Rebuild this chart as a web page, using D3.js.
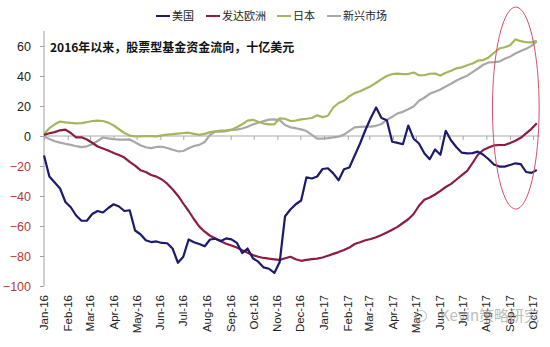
<!DOCTYPE html>
<html><head><meta charset="utf-8">
<script src="https://cdn.jsdelivr.net/npm/d3@7"></script>
<style>
html,body{margin:0;padding:0;background:#fff;}
svg{display:block;}
</style></head>
<body><div id="chart"></div>
<script>
// ---- Data (weekly, starting 2016-01-01), US$ bn cumulative flows ----
const seriesNames = ["美国", "发达欧洲", "日本", "新兴市场"];
const startDate = "2016-01-01";
const usValues = [-13,-27,-31,-35,-44,-47.5,-53,-56.5,-56.5,-52,-50,-51,-48,-45.5,-47,-50,-49.5,-63,-65.5,-69.5,
 -70.7,-70.3,-71.3,-71.5,-75,-84.5,-80.5,-69,-70.8,-72,-73.5,-69,-68.5,-70,-68.3,-68.9,-71.2,-78,-75,-81.5,
 -83.8,-87.6,-88.5,-91.3,-84,-53.5,-49,-45.5,-43,-27.5,-28.3,-27,-22,-21.5,-24.9,-29.5,-22.2,-21,-13,-5,
 4,12,19,12,10.5,-3.8,-4.6,-5.5,7,-1.8,-5,-11.5,-15.5,-9,-12.5,3.5,-3,-7.5,-11.1,-11.6,
 -11.4,-10.4,-12.5,-15.5,-19,-20.4,-20.4,-19.3,-18.2,-18.8,-24,-24.6,-22.7];
const europeValues = [0.7,1.8,2.6,3.8,4.3,2,-0.9,-0.9,-2.3,-4.5,-7,-8.3,-9.7,-11.3,-12.7,-14.4,-17.3,-19.7,-22.8,-24,
 -26,-27.1,-29,-31.8,-35.5,-39.8,-45,-50,-55.5,-60.4,-63.8,-66.5,-68.3,-70.1,-71.8,-73,-74.4,-76.2,-77.9,-79.4,
 -80.5,-81.3,-81.8,-82.2,-82.6,-81.5,-80.5,-82.2,-83.2,-82.6,-82.1,-81.7,-81,-79.8,-78.6,-77.4,-76,-74.4,-72,-70.8,
 -69.5,-68.7,-67.5,-66,-64.3,-62.5,-60.6,-58,-55.5,-52,-46.5,-42.5,-41,-39,-36.6,-34,-31.9,-29,-26.1,-23.3,
 -18,-12.5,-9.3,-7.7,-6.3,-6,-6,-4.7,-3.2,-1.2,1.7,4.8,8.5];
const japanValues = [1.3,5.2,7.8,9.6,9.1,8.7,8.4,8.6,9.2,10,10.2,10,8.9,7,4.5,2,0.3,-0.3,-0.3,0,
 -0.1,-0.3,0.4,0.9,1.2,1.6,2,2.2,1.4,0.8,1.4,2.6,3.1,3.6,3.8,4.2,5.8,7.8,10.2,10.8,
 9.5,8.3,7.8,7.8,11.8,11.5,10,10.3,11.1,11.5,12,13.8,12.6,13.5,19,22,23.5,26.5,28.6,29.8,
 31.5,33.2,35.5,37.9,40,41.3,41.6,41.2,41.3,42.3,40.5,40.5,41.5,41.6,40.3,42.2,43.5,45.1,45.8,47.2,
 48.3,50.2,50.6,52.4,55.5,58.3,59.2,60.5,64.4,63.2,62.5,62.4,63.5];
const emValues = [-0.4,-2,-3.5,-4.4,-5.2,-5.9,-6.8,-7.4,-6.9,-5.5,-3.3,-1,-1.6,-2.1,-2.4,-2.4,-2.3,-4.2,-6.2,-7.5,
 -8.1,-7.3,-7.2,-8,-9.2,-10.2,-10,-8.2,-6.7,-5.9,-4,0.7,2.9,2.9,3.3,4,4.3,5,6.2,7.7,
 8.8,9.9,10.9,11.1,10.6,7.3,5.8,5.2,4.4,3.3,0.8,-1.8,-1.8,-1.4,-0.9,-0.4,0.9,3.4,5.7,6.1,
 6.2,6.3,6.8,8,10.7,12.8,15.1,16.1,17.8,19.7,23.5,25.5,28.1,29.5,31,33,34.8,37,38.6,40.2,
 42.6,45,47.5,49,49.2,49.6,51.5,52.9,55,56.6,58.1,60.1,63];
const yTickValues = [-100,-80,-60,-40,-20,0,20,40,60];
const xTickStart = "2016-01-01", xTickEnd = "2017-10-01";
const titleText = "2016年以来，股票型基金资金流向，十亿美元";
// highlighted period (annotation ellipse), in data terms
const highlightDates = ["2017-08-09", "2017-10-09"];
const highlightValues = [86, -48.7];

// ---- Layout ----
const W = 550, H = 347;
const colors = ["#1c1a6e", "#8c1c40", "#a6b55e", "#a8a8a8"];
const parse = d3.timeParse("%Y-%m-%d");
const t0 = parse(startDate);
const dates = usValues.map((_, i) => d3.timeDay.offset(t0, 7 * i));
const allSeries = [usValues, europeValues, japanValues, emValues];

const svg = d3.select("#chart").append("svg").attr("width", W).attr("height", H);

const x = d3.scaleTime().domain([parse(xTickStart), parse(xTickEnd)]).range([44, 533]);
const y = d3.scaleLinear().domain([-100, 70]).range([286, 31]);

// Y axis
const yAxis = svg.append("g").attr("transform", "translate(44,0)")
  .call(d3.axisLeft(y).tickValues(yTickValues).tickSize(4).tickPadding(9).tickFormat(d3.format("d")));
yAxis.select(".domain").attr("stroke", "#a0a0a0").attr("d", `M0,${y(70)}V${y(-100)}`);
yAxis.selectAll(".tick line").attr("stroke", "#a0a0a0");
yAxis.selectAll(".tick text")
  .attr("font-family", "Liberation Sans, Arial, sans-serif").attr("font-size", 12.5)
  .attr("fill", d => d < 0 ? "#b03a3a" : "#222");

// X axis at zero
const months = d3.timeMonth.range(parse(xTickStart), d3.timeDay.offset(parse(xTickEnd), 1));
const xAxis = svg.append("g").attr("transform", `translate(0,${y(0)})`)
  .call(d3.axisBottom(x).tickValues(months).tickSize(4).tickFormat(""));
xAxis.select(".domain").attr("stroke", "#a8a8a8").attr("d", `M44,0H540`);
xAxis.selectAll(".tick line").attr("stroke", "#a8a8a8");

// X labels at bottom
const fmt = d3.timeFormat("%b-%y");
svg.append("g").selectAll("text").data(months).join("text")
  .attr("transform", d => `translate(${x(d)},295) rotate(-90)`)
  .attr("text-anchor", "end").attr("dy", "0.35em")
  .attr("font-family", "Liberation Sans, Arial, sans-serif").attr("font-size", 11.5)
  .attr("fill", "#222").text(d => fmt(d));

// Lines (draw EM, Japan, Europe, US order so US on top)
const line = d3.line().x((d, i) => x(dates[i])).y(d => y(d)).curve(d3.curveLinear);
[3, 2, 1, 0].forEach(k => {
  svg.append("path").datum(allSeries[k]).attr("d", line)
    .attr("fill", "none").attr("stroke", colors[k]).attr("stroke-width", 2.2)
    .attr("stroke-linejoin", "round");
});

// Title annotation
svg.append("text").attr("x", 50).attr("y", 52)
  .attr("font-family", "Noto Sans CJK SC, sans-serif").attr("font-weight", "bold")
  .attr("font-size", 12).attr("fill", "#111").text(titleText);

// Legend
const legendX = [156, 206, 277, 327];
const lg = svg.append("g");
seriesNames.forEach((n, k) => {
  lg.append("line").attr("x1", legendX[k]).attr("x2", legendX[k] + 14)
    .attr("y1", 16).attr("y2", 16).attr("stroke", colors[k]).attr("stroke-width", 2);
  lg.append("text").attr("x", legendX[k] + 16).attr("y", 20)
    .attr("font-family", "Noto Sans CJK SC, sans-serif").attr("font-size", 11)
    .attr("fill", "#222").text(n);
});

// Highlight ellipse
const ex0 = x(parse(highlightDates[0])), ex1 = x(parse(highlightDates[1]));
const ey0 = y(highlightValues[0]), ey1 = y(highlightValues[1]);
svg.append("ellipse").attr("cx", (ex0 + ex1) / 2).attr("cy", (ey0 + ey1) / 2)
  .attr("rx", (ex1 - ex0) / 2).attr("ry", (ey1 - ey0) / 2)
  .attr("fill", "none").attr("stroke", "#d0526c").attr("stroke-width", 1);

// Watermark
const wm = svg.append("g").attr("opacity", 0.55);
wm.append("circle").attr("cx", 421).attr("cy", 316).attr("r", 5.5).attr("fill", "none").attr("stroke", "#999").attr("stroke-width", 1.2);
wm.append("text").attr("x", 440).attr("y", 321)
  .attr("font-family", "Noto Sans CJK SC, sans-serif").attr("font-size", 15)
  .attr("fill", "#888").text("Kevin策略研究");
</script></body></html>
